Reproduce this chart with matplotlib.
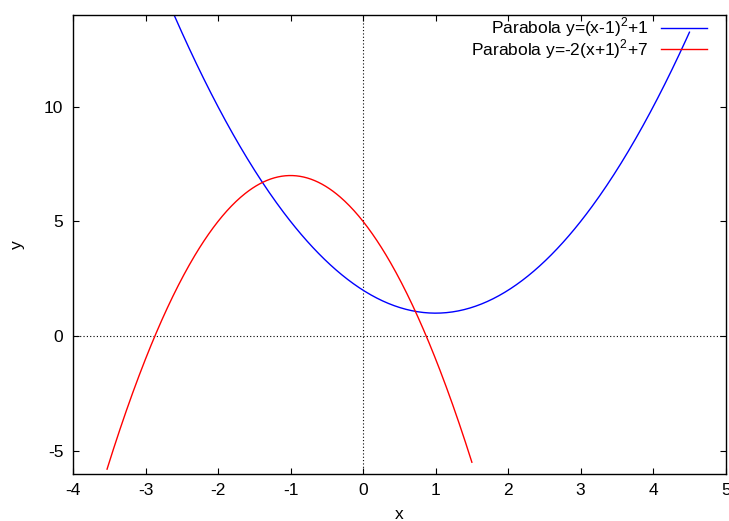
import numpy as np
import matplotlib
matplotlib.use("Agg")
import matplotlib.pyplot as plt

plt.rcParams["font.family"] = ["Liberation Sans", "DejaVu Sans"]
plt.rcParams["axes.unicode_minus"] = False
plt.rcParams["mathtext.fontset"] = "custom"
plt.rcParams["mathtext.rm"] = "Liberation Sans"

# parabola parameters: y = a*(x - h)^2 + k
blue_a, blue_h, blue_k = 1.0, 1.0, 1.0
red_a, red_h, red_k = -2.0, -1.0, 7.0
blue_range = [-3.5, 4.5]
red_range = [-3.53, 1.5]
labels = ["Parabola y=(x-1)$^2$+1", "Parabola y=-2(x+1)$^2$+7"]
x_ticks = [-4, -3, -2, -1, 0, 1, 2, 3, 4, 5]
y_ticks = [-5, 0, 5, 10]

x_blue = np.linspace(blue_range[0], blue_range[1], 400)
x_red = np.linspace(red_range[0], red_range[1], 400)
y_blue = blue_a * (x_blue - blue_h) ** 2 + blue_k
y_red = red_a * (x_red - red_h) ** 2 + red_k

fig = plt.figure(figsize=(7.29, 5.21), dpi=100)
ax = fig.add_axes([0.1001, 0.0908, 0.8954, 0.8804])

ax.axhline(0, color="black", lw=0.8, ls=(0, (1, 2)), zorder=1)
ax.axvline(0, color="black", lw=0.8, ls=(0, (1, 2)), zorder=1)
ax.plot(x_blue, y_blue, color="#0000ff", lw=1, label=labels[0])
ax.plot(x_red, y_red, color="#ff0000", lw=1, label=labels[1])

ax.set_xlim(-4, 5)
ax.set_ylim(-6, 14)
ax.set_xticks(x_ticks)
ax.set_yticks(y_ticks)
ax.tick_params(direction="in", length=4, width=0.8, labelsize=12.5,
               top=True, right=True, pad=7)
ax.tick_params(axis="x", pad=6.5)
for s in ax.spines.values():
    s.set_linewidth(1)

ax.set_xlabel("x", fontsize=12.5, labelpad=7)
ax.set_ylabel("y", fontsize=12.5, labelpad=14)

ax.legend(loc="upper right", frameon=False, fontsize=12.5, markerfirst=False,
          handlelength=2.65, handletextpad=0.7, labelspacing=-0.12,
          borderaxespad=0.0, borderpad=0.05, bbox_to_anchor=(0.972, 1.0))

fig.savefig("out.png", dpi=100)
plt.close(fig)
